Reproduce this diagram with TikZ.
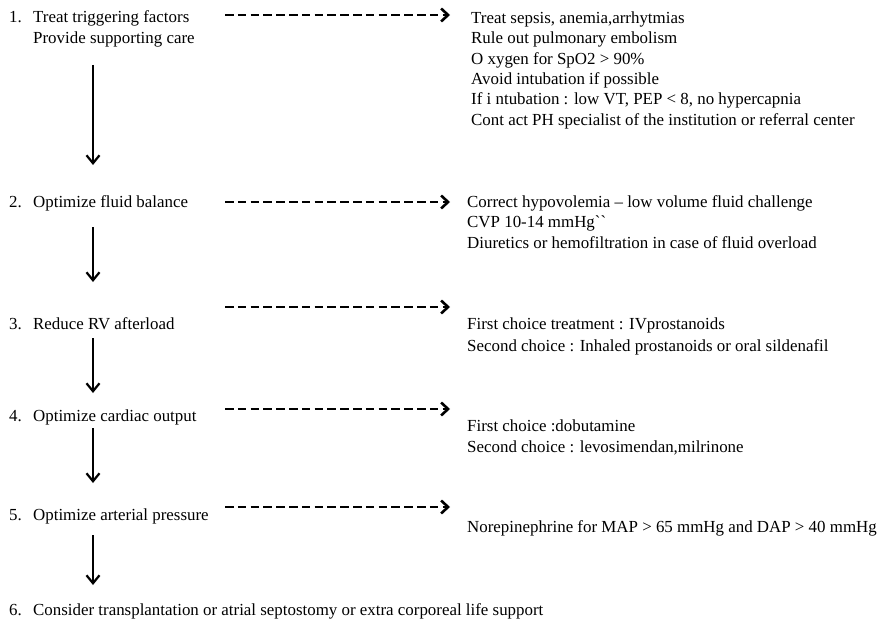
\documentclass[tikz,border=0pt]{standalone}
\usepackage{fontspec}
\setmainfont{Liberation Serif}
\newfontfamily\rawserif{Liberation Serif}[Ligatures=TeXOff]
\usetikzlibrary{arrows.meta}
\begin{document}
\begin{tikzpicture}[x=1pt,y=-1pt,
  txt/.style={anchor=base west,inner sep=0pt,align=left,font=\fontsize{16.9}{20.5}\selectfont},
  dasharrow/.style={line width=2.6pt,dash pattern=on 8.5pt off 4.3pt,-{Straight Barb[length=7pt,width=13pt]}},
  downarrow/.style={line width=2.2pt,-{Straight Barb[length=8pt,width=13pt]}}]
\useasboundingbox (0,0) rectangle (883,623);
% left column (base anchor = last line of each node)
\node[txt] (num1) at (9,23) {1.};
\node[txt,font=\fontsize{16.9}{21}\selectfont] (s1) at (33,44) {Treat triggering factors\\Provide supporting care};
\node[txt] (num2) at (9,207) {2.};
\node[txt] (s2) at (33,207) {Optimize fluid balance};
\node[txt] (num3) at (9,329) {3.};
\node[txt] (s3) at (33,329) {Reduce RV afterload};
\node[txt] (num4) at (9,421) {4.};
\node[txt] (s4) at (33,421) {Optimize cardiac output};
\node[txt] (num5) at (9,520) {5.};
\node[txt] (s5) at (33,520) {Optimize arterial pressure};
\node[txt] (num6) at (9,615) {6.};
\node[txt] (s6) at (33,615) {Consider transplantation or atrial septostomy or extra corporeal life support};
% right column
\node[txt,font=\fontsize{16.9}{20.3}\selectfont] (r1) at (471,125) {Treat sepsis, anemia,arrhytmias\\Rule out pulmonary embolism\\O xygen for SpO2 > 90\%\\Avoid intubation if possible\\If i ntubation : low VT, PEP < 8, no hypercapnia\\Cont act PH specialist of the institution or referral center};
\node[txt] (r2) at (467,248) {Correct hypovolemia – low volume fluid challenge\\CVP 10-14 mmHg{\rawserif ``}\\Diuretics or hemofiltration in case of fluid overload};
\node[txt,font=\fontsize{16.9}{22}\selectfont] (r3) at (467,351) {First choice treatment : IVprostanoids\\Second choice : Inhaled prostanoids or oral sildenafil};
\node[txt,font=\fontsize{16.9}{21}\selectfont] (r4) at (467,452) {First choice :dobutamine\\Second choice : levosimendan,milrinone};
\node[txt] (r5) at (467,532) {Norepinephrine for MAP > 65 mmHg and DAP > 40 mmHg};
% dashed arrow ends
\foreach \i/\y in {1/15,2/202,3/307,4/409,5/507}{
  \coordinate (da\i) at (225,\y);
  \coordinate (db\i) at (450,\y);
}
\foreach \i in {1,...,5}{\draw[dasharrow] (da\i) -- (db\i);}
% down arrow ends
\foreach \i/\ya/\yb in {1/65/165,2/227/282,3/338/393,4/428/483,5/535/585}{
  \coordinate (va\i) at (93,\ya);
  \coordinate (vb\i) at (93,\yb);
}
\foreach \i in {1,...,5}{\draw[downarrow] (va\i) -- (vb\i);}
\end{tikzpicture}
\end{document}
